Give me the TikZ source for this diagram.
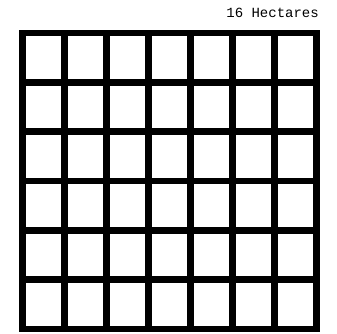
\documentclass[tikz,border=0pt]{standalone}
\usepackage{fontspec}
\setmonofont{Liberation Mono}
\usepackage{tikz}
\tikzset{
  gridline/.style={line width=6.5pt, line cap=rect},
  areatag/.style={font=\ttfamily\fontsize{14}{14}\selectfont, inner sep=0pt, anchor=base east},
}

\begin{document}
\begin{tikzpicture}[x=1pt,y=-1pt]
\useasboundingbox (0,0) rectangle (337,333);
% area label
\node[areatag] (tag) at (319,17) {16 Hectares};
% plot of 7 x 6 cells
\begin{scope}[shift={(22.5,33)}, x=42pt, y=-49.33pt]
\foreach \i in {0,...,7} \draw[gridline] (\i,0) -- (\i,6);
\foreach \j in {0,...,6} \draw[gridline] (0,\j) -- (7,\j);
\end{scope}
\end{tikzpicture}
\end{document}
